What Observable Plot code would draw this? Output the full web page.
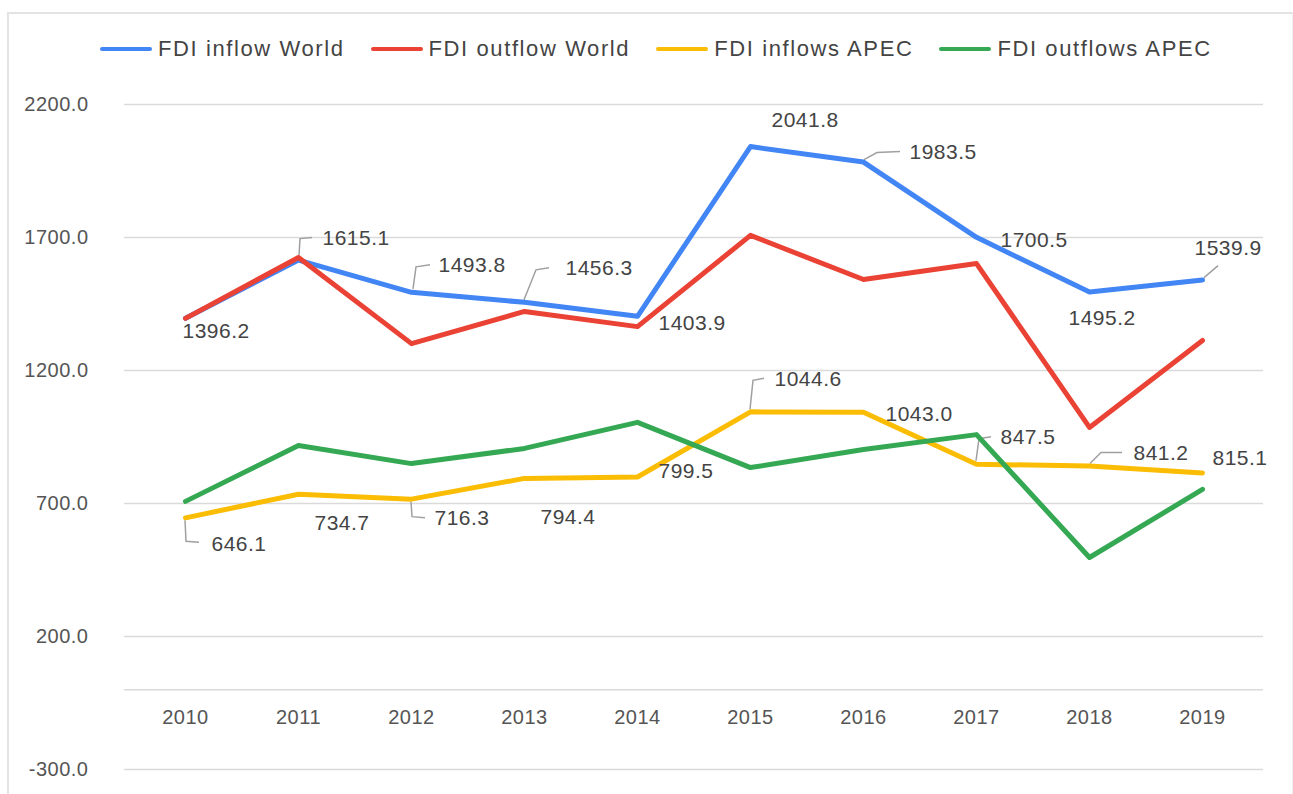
<!DOCTYPE html>
<html><head><meta charset="utf-8">
<script src="https://cdn.jsdelivr.net/npm/d3@7"></script>
<script src="https://cdn.jsdelivr.net/npm/@observablehq/plot@0.6"></script>
<style>
body{margin:0;background:#fff;font-family:"Liberation Sans",Arial,sans-serif;}
#frame{position:absolute;left:7px;top:12px;width:1283px;height:790px;border-top:2px solid #e3e3e3;border-left:2px solid #e3e3e3;border-right:1px solid #eeeeee;}
#chart{position:absolute;left:0;top:0}
#legend{position:absolute;top:36px;left:100px;display:flex;align-items:center;font-size:22px;letter-spacing:1.6px;color:#444;white-space:nowrap;}
.item{display:flex;align-items:center;margin-right:26px}
.sw{width:52px;height:4px;border-radius:2px;margin-right:6px}
</style></head><body>
<div id="frame"></div>
<div id="chart"></div>
<div id="legend"></div>
<script>
// ---- data ----
const years = [2010, 2011, 2012, 2013, 2014, 2015, 2016, 2017, 2018, 2019];
const seriesNames = ["FDI inflow World", "FDI outflow World", "FDI inflows APEC", "FDI outflows APEC"];
const inflowWorld  = [1396.2, 1615.1, 1493.8, 1456.3, 1403.9, 2041.8, 1983.5, 1700.5, 1495.2, 1539.9];
const outflowWorld = [1396, 1625, 1301, 1422, 1365, 1708, 1542, 1602, 986, 1313];
const inflowsAPEC  = [646.1, 734.7, 716.3, 794.4, 799.5, 1044.6, 1043.0, 847.5, 841.2, 815.1];
const outflowsAPEC = [708, 918, 850, 907, 1005, 835, 903, 959, 497, 753];
const yTicks = [-300, 200, 700, 1200, 1700, 2200];

// ---- styling / layout ----
const colors = ["#4285f4", "#ea4335", "#fbbc04", "#34a853"];
// label offsets (px) relative to the data point: [dx, dy]
const inflowWorldLabelOffsets = [[-3,13],[24,-22],[27,-27],[41,-34],[21,7],[21,-26],[46,-10],[24,3],[-21,26],[-8,-32]];
const inflowsAPECLabelOffsets = [[26,26],[16,29],[23,19],[16,39],[21,-6],[24,-33],[22,2],[24,-27],[44,-13],[10,-15]];
// leader polylines (px offsets) keyed by label index, null = none
const inflowWorldLeaders = [null,[[1,-4],[2,-21],[14,-22]],[[2,-3],[5,-25],[19,-27]],[[0,-2],[12,-32],[25,-34]],null,null,[[1,-2],[14,-9],[37,-10]],null,null,[[2,-2],[16,-14]]];
const inflowsAPECLeaders = [[[0,3],[1,24],[14,25]],null,[[0,3],[1,18],[14,19]],null,null,[[0,-2],[3,-31],[14,-33]],null,[[0,-3],[3,-25],[15,-27]],[[1,-2],[12,-13],[33,-13]],null];

const allSeries = [inflowWorld, outflowWorld, inflowsAPEC, outflowsAPEC];
const rows = allSeries.flatMap((vals, s) => years.map((year, i) => ({series: seriesNames[s], year, value: vals[i]})));

const fontFamily = "'Liberation Sans', Arial, sans-serif";

const leaderMark = (index, scales) => {
  const g = d3.create("svg:g").attr("fill", "none").attr("stroke", "#a0a0a0").attr("stroke-width", 1.5);
  [[inflowWorld, inflowWorldLeaders], [inflowsAPEC, inflowsAPECLeaders]].forEach(([vals, leaders]) => {
    leaders.forEach((pts, i) => {
      if (!pts) return;
      const px = scales.x(years[i]), py = scales.y(vals[i]);
      g.append("polyline").attr("points", pts.map(([a, b]) => `${px + a},${py + b}`).join(" "));
    });
  });
  return g.node();
};

const labelMarks = [];
[[inflowWorld, inflowWorldLabelOffsets], [inflowsAPEC, inflowsAPECLabelOffsets]].forEach(([vals, offs]) => {
  years.forEach((year, i) => {
    labelMarks.push(Plot.text([{year, value: vals[i]}], {
      x: "year", y: "value", text: d => d.value.toFixed(1),
      dx: offs[i][0], dy: offs[i][1], textAnchor: "start",
      fill: "#444", fontSize: 21, style: "letter-spacing:0.6px"
    }));
  });
});

const chart = Plot.plot({
  width: 1293,
  height: 794,
  marginTop: 104,
  marginBottom: 25,
  marginLeft: 124,
  marginRight: 30,
  style: {fontFamily, fontSize: "20px", color: "#555", background: "transparent", letterSpacing: "0.5px"},
  x: {type: "point", domain: years, padding: 0.5, axis: null},
  y: {domain: [-300, 2200], ticks: yTicks, tickFormat: d => d.toFixed(1), tickSize: 0, tickPadding: 36, label: null},
  color: {domain: seriesNames, range: colors},
  marks: [
    Plot.ruleY(yTicks.concat([0]), {stroke: "#dadada", strokeWidth: 1.5}),
    Plot.text(years, {x: d => d, y: 0, dy: 28, text: d => String(d), fill: "#555", fontSize: 20}),
    leaderMark,
    Plot.line(rows, {x: "year", y: "value", z: "series", stroke: "series", strokeWidth: 5, strokeLinejoin: "round"}),
    ...labelMarks
  ]
});
document.getElementById("chart").appendChild(chart);

const legend = d3.select("#legend");
seriesNames.forEach((name, i) => {
  const it = legend.append("div").attr("class", "item");
  it.append("div").attr("class", "sw").style("background", colors[i]);
  it.append("span").text(name);
});
</script>
</body></html>
